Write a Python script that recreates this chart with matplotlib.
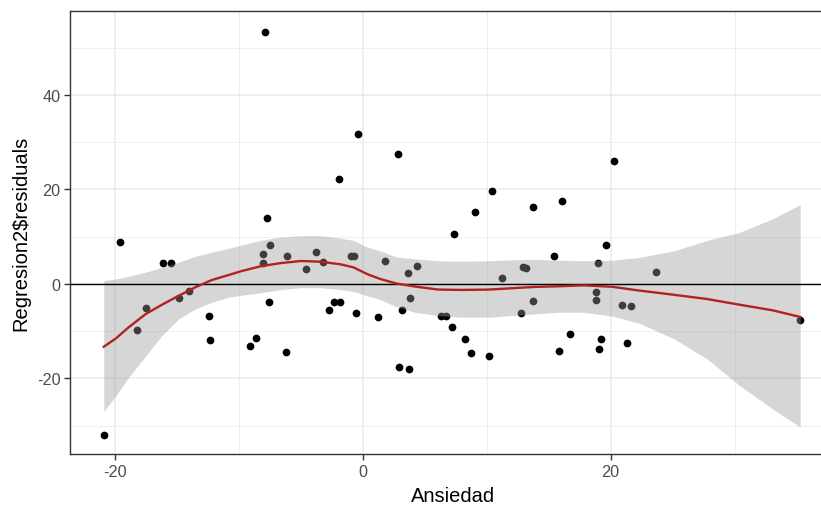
import matplotlib
matplotlib.use("Agg")
import matplotlib.pyplot as plt
import numpy as np

plt.rcParams['font.family'] = ['Liberation Sans', 'DejaVu Sans']
plt.rcParams['axes.unicode_minus'] = False

# ---- data ----
ansiedad = [-20.9, -19.6, -18.2, -17.5, -16.1, -15.5, -14.8, -14.0, -12.4, -12.3,
            -9.07, -8.6, -8.05, -8.05, -7.92, -7.7, -7.6, -7.46, -6.2, -6.1,
            -4.6, -3.8, -3.2, -2.76, -2.3, -1.8, -1.95, -0.95, -0.74, -0.58,
            -0.36, 1.25, 1.8, 2.84, 2.94, 3.2, 3.65, 3.75, 3.8, 4.34,
            6.3, 6.7, 7.2, 7.4, 8.25, 8.7, 9.05, 10.2, 10.4, 11.2,
            12.8, 12.9, 13.2, 13.75, 13.75, 15.45, 15.8, 16.1, 16.7, 18.8,
            18.8, 19.0, 19.1, 19.2, 19.6, 20.3, 20.95, 21.3, 21.65, 23.7, 35.3]
residuals = [-31.9, 8.8, -9.8, -5.0, 4.4, 4.4, -3.0, -1.4, -6.8, -11.9,
             -13.1, -11.4, 6.4, 4.4, 53.4, 14.0, -3.8, 8.25, -14.4, 5.85,
             3.1, 6.8, 4.7, -5.6, -3.75, -3.75, 22.1, 5.85, 5.85, -6.2,
             31.7, -7.1, 4.9, 27.6, -17.6, -5.6, 2.25, -18.0, -2.9, 3.75,
             -6.8, -6.8, -9.1, 10.65, -11.6, -14.7, 15.2, -15.2, 19.7, 1.35,
             -6.2, 3.66, 3.4, 16.2, -3.7, 5.85, -14.3, 17.6, -10.7, -1.7,
             -3.5, 4.35, -13.8, -11.6, 8.25, 26.0, -4.4, -12.6, -4.7, 2.55, -7.7]

# loess smooth and its confidence band
smooth_x = [-20.9, -19.9, -18.9, -17.5, -16.2, -14.85, -13.5, -12.2, -10.8, -9.8,
            -8.3, -6.65, -5.0, -3.4, -1.8, -0.74, 0.34, 1.4, 2.7, 4.2,
            6.1, 8.0, 10.15, 12.0, 13.9, 15.8, 17.8, 20.1, 22.3, 25.1,
            27.8, 30.4, 33.1, 35.3]
smooth_fit = [-13.3, -11.5, -9.2, -6.35, -4.4, -2.5, -0.7, 0.8, 1.9, 2.7,
              3.7, 4.4, 4.85, 4.7, 4.15, 3.5, 2.1, 1.05, 0.1, -0.55,
              -1.2, -1.27, -1.2, -0.92, -0.63, -0.5, -0.3, -0.6, -1.4, -2.3,
              -3.2, -4.4, -5.6, -7.0]
smooth_lo = [-27.0, -23.6, -19.8, -15.2, -10.9, -7.4, -5.3, -3.9, -2.8, -2.4,
             -1.9, -1.2, -0.8, -0.8, -1.2, -1.6, -2.5, -3.3, -4.8, -6.0,
             -6.7, -7.05, -7.05, -6.7, -6.35, -6.0, -6.0, -6.8, -8.3, -11.6,
             -15.9, -21.5, -26.5, -30.3]
smooth_hi = [0.7, 1.06, 1.6, 2.5, 3.5, 4.6, 5.85, 6.7, 7.55, 8.2,
             9.2, 9.9, 10.2, 10.2, 9.7, 9.2, 7.8, 7.0, 5.7, 5.3,
             4.9, 4.8, 4.9, 5.1, 5.2, 5.0, 4.9, 5.0, 5.6, 7.0,
             9.2, 10.9, 13.8, 16.8]

x_ticks = [-20, 0, 20]
y_ticks = [-20, 0, 20, 40]
x_label = "Ansiedad"
y_label = "Regresion2$residuals"

# ---- figure ----
W, H = 821, 506
fig = plt.figure(figsize=(W / 100, H / 100), dpi=100)
left_px, right_px, top_px, bottom_px = 70.3, 834.9, 12.3, 455.0
ax = fig.add_axes([left_px / W, 1 - bottom_px / H,
                   (right_px - left_px) / W, (bottom_px - top_px) / H])

ax.set_xlim(-23.6, 38.1)
ax.set_ylim(-36.0, 57.7)

ax.set_xticks(x_ticks)
ax.set_yticks(y_ticks)
ax.set_xticks([-10, 10, 30], minor=True)
ax.set_yticks([-30, -10, 10, 30, 50], minor=True)

ax.grid(which='major', color='#EBEBEB', linewidth=1.1, zorder=0)
ax.grid(which='minor', color='#EBEBEB', linewidth=0.55, zorder=0)
ax.set_axisbelow(True)

ax.scatter(ansiedad, residuals, s=31, color='black', linewidths=0, zorder=2)
ax.fill_between(smooth_x, smooth_lo, smooth_hi, color='#999999', alpha=0.4,
                linewidth=0, zorder=3)
ax.axhline(0, color='black', linewidth=1.0, zorder=4)
ax.plot(smooth_x, smooth_fit, color='#B22222', linewidth=1.7, zorder=5)

for s in ax.spines.values():
    s.set_color('#333333')
    s.set_linewidth(1.0)

ax.tick_params(which='major', length=4, width=1.0, color='#333333',
               labelcolor='#4D4D4D', labelsize=11.7, pad=3)
ax.tick_params(which='minor', length=0)

ax.set_xlabel(x_label, fontsize=14.5, color='black', labelpad=5)
ax.set_ylabel(y_label, fontsize=14.5, color='black', labelpad=5)

fig.savefig("out.png", dpi=100)
